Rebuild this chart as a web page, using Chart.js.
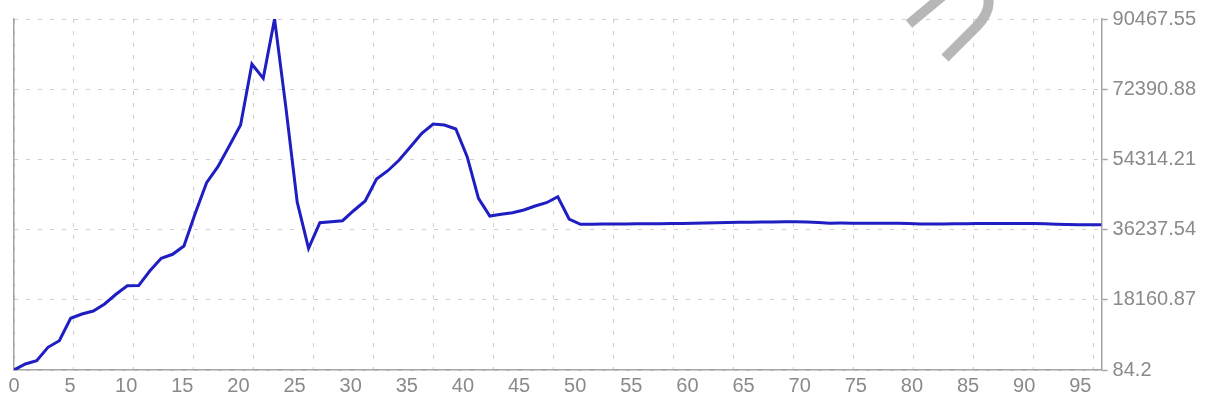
<!DOCTYPE html>
<html>
<head>
<meta charset="utf-8">
<script src="https://cdn.jsdelivr.net/npm/chart.js@4.4.1/dist/chart.umd.min.js"></script>
<style>
  html, body { margin: 0; padding: 0; background: #ffffff; }
  #wrap { position: relative; width: 1209px; height: 403px; }
</style>
</head>
<body>
<div id="wrap"><canvas id="c"></canvas></div>
<script>
// ---- data ----
const xValues = [
  0, 1, 2, 3, 4, 5, 6, 7, 8, 9,
  10, 11, 12, 13, 14, 15, 16, 17, 18, 19,
  20, 21, 22, 23, 24, 25, 26, 27, 28, 29,
  30, 31, 32, 33, 34, 35, 36, 37, 38, 39,
  40, 41, 42, 43, 44, 45, 46, 47, 48, 49,
  50, 51, 52, 53, 54, 55, 56, 57, 58, 59,
  60, 61, 62, 63, 64, 65, 66, 67, 68, 69,
  70, 71, 72, 73, 74, 75, 76, 77, 78, 79,
  80, 81, 82, 83, 84, 85, 86, 87, 88, 89,
  90, 91, 92, 93, 94, 95, 96
];
const seriesValues = [
  84.2, 1630, 2480, 5930, 7630, 13400, 14500, 15280, 17080, 19580,
  21790, 21820, 25650, 28850, 29880, 32010, 40430, 48310, 52430, 57760,
  63170, 78880, 75190, 90467.55, 67650, 43300, 31420, 38010, 38270, 38530,
  41160, 43600, 49270, 51400, 54160, 57580, 61030, 63430, 63170, 62140,
  55010, 44300, 39740, 40180, 40590, 41280, 42310, 43160, 44710, 38970,
  37600, 37600, 37650, 37680, 37700, 37720, 37740, 37760, 37790, 37830,
  37880, 37930, 37990, 38050, 38100, 38150, 38180, 38200, 38230, 38250,
  38200, 38050, 37900, 37920, 37900, 37880, 37850, 37870, 37880, 37800,
  37700, 37650, 37700, 37740, 37760, 37780, 37790, 37800, 37810, 37820,
  37800, 37720, 37620, 37550, 37500, 37480, 37460
];
const xTickLabels = [0, 5, 10, 15, 20, 25, 30, 35, 40, 45, 50, 55, 60, 65, 70, 75, 80, 85, 90, 95];
const yTickLabels = [84.2, 18160.87, 36237.54, 54314.21, 72390.88, 90467.55];

// ---- styling ----
const FONT = { family: "'Liberation Sans', Arial, Helvetica, sans-serif", size: 20 };
const TEXT_COLOR = '#8a8a8a';
const AXIS_COLOR = '#a4a4a4';
const GRID_COLOR = '#cfcfcf';
const GRID_DASH = [4, 8];
const LINE_COLOR = '#1e1ec2';
const X_DATA_MAX = 96;       // data axis range
const X_LABEL_MAX = 96.9;    // label axis range (labels sit slightly tighter)
const GRID_CELLS = 18.13;    // vertical grid cells across the plot

const points = xValues.map((x, i) => ({ x: x, y: seriesValues[i] }));

const watermark = {
  id: 'watermark',
  afterDraw(chart) {
    const ctx = chart.ctx;
    ctx.save();
    ctx.strokeStyle = 'rgba(170,170,170,0.85)';
    ctx.lineWidth = 10;
    ctx.lineCap = 'butt';
    ctx.beginPath();
    ctx.moveTo(909, 24);
    ctx.lineTo(945, -6);
    ctx.stroke();
    ctx.beginPath();
    ctx.moveTo(945, 58);
    ctx.lineTo(977, 26);
    ctx.quadraticCurveTo(993, 9, 987, -6);
    ctx.stroke();
    ctx.restore();
  }
};

new Chart(document.getElementById('c'), {
  type: 'line',
  data: {
    datasets: [{
      data: points,
      xAxisID: 'x',
      yAxisID: 'y',
      borderColor: LINE_COLOR,
      borderWidth: 3,
      pointRadius: 0,
      pointHoverRadius: 0,
      tension: 0,
      fill: false
    }]
  },
  options: {
    responsive: true,
    maintainAspectRatio: false,
    animation: false,
    events: [],
    layout: { padding: { left: 14, right: 8, top: 19, bottom: 0 } },
    plugins: { legend: { display: false }, tooltip: { enabled: false }, title: { display: false } },
    scales: {
      x: {
        type: 'linear', display: false, min: 0, max: X_DATA_MAX
      },
      xg: {
        type: 'linear', position: 'top', min: 0, max: GRID_CELLS,
        ticks: { display: false, stepSize: 1, includeBounds: false },
        grid: { display: true, drawTicks: false, color: GRID_COLOR, lineWidth: 1 },
        border: { display: false, dash: GRID_DASH }
      },
      xl: {
        type: 'linear', position: 'bottom', min: 0, max: X_LABEL_MAX,
        afterBuildTicks: (axis) => { axis.ticks = xTickLabels.map(v => ({ value: v })); },
        ticks: { autoSkip: false, maxRotation: 0, padding: 4.5, color: TEXT_COLOR, font: FONT,
                 callback: (v) => String(v) },
        grid: { display: false, drawTicks: false },
        border: { display: true, color: AXIS_COLOR, width: 1.5 }
      },
      y: {
        type: 'linear', position: 'right', min: yTickLabels[0], max: yTickLabels[yTickLabels.length - 1],
        afterBuildTicks: (axis) => { axis.ticks = yTickLabels.map(v => ({ value: v })); },
        ticks: { padding: 5, color: TEXT_COLOR, font: FONT,
                 callback: (v) => String(yTickLabels.find(t => Math.abs(t - v) < 1e-6) ?? v) },
        grid: { display: true, drawTicks: true, tickLength: 6, tickColor: AXIS_COLOR, tickWidth: 1.5,
                color: GRID_COLOR, lineWidth: 1 },
        border: { display: true, color: AXIS_COLOR, width: 1.5, dash: GRID_DASH }
      },
      yl: {
        type: 'linear', position: 'left', min: 0, max: 1,
        ticks: { display: false },
        grid: { display: false, drawTicks: false },
        border: { display: true, color: AXIS_COLOR, width: 1.5 }
      }
    }
  },
  plugins: [watermark]
});
</script>
</body>
</html>
